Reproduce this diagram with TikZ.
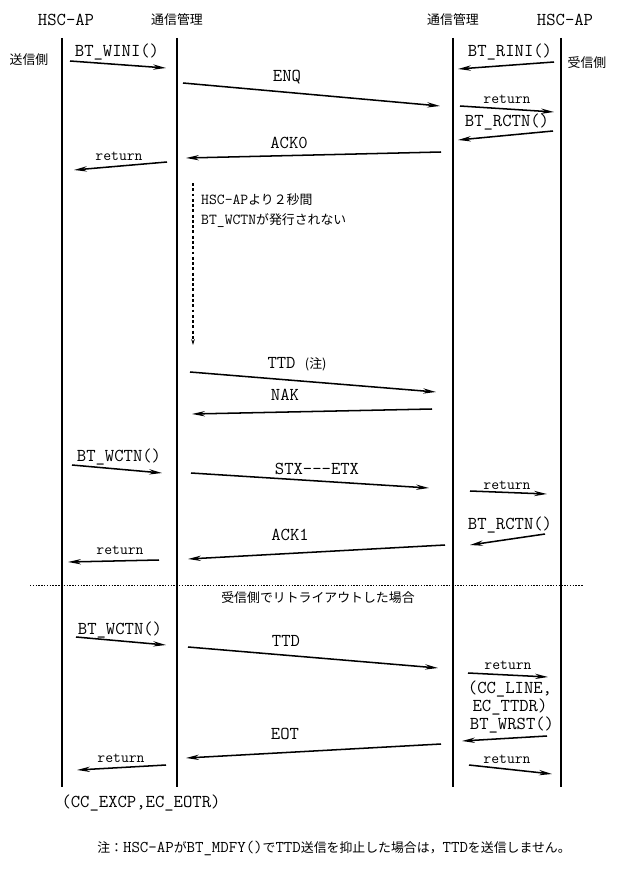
\documentclass[tikz,border=0pt]{standalone}
\usepackage{fontspec}
\newfontfamily\jpfont{Noto Sans CJK JP}
\newcommand{\jp}[1]{{\jpfont\fontsize{11pt}{13pt}\selectfont #1}}
\usetikzlibrary{arrows.meta}

\begin{document}
\begin{tikzpicture}[
    x=0.03cm, y=-0.03cm,
    life_style/.style={line width=1.3pt},
    msg_style/.style={line width=1.3pt, -{Stealth[length=11pt,width=4.5pt]}},
    lbl_style/.style={font=\ttfamily\fontsize{15.5pt}{17pt}\selectfont, inner sep=0pt},
    ret_style/.style={font=\ttfamily\fontsize{13pt}{15pt}\selectfont, inner sep=0pt},
    jp_style/.style={inner sep=0pt, align=left}
]
\useasboundingbox (0,0) rectangle (621,873);
% Kopfzeile
\node[lbl_style] (h1) at (66,20) {HSC-AP};
\node[jp_style] (h2) at (177,20) {\jp{通信管理}};
\node[jp_style] (h3) at (453,20) {\jp{通信管理}};
\node[lbl_style] (h4) at (565,20) {HSC-AP};
\node[jp_style] (send) at (29,60) {\jp{送信側}};
\node[jp_style] (recv) at (587,63) {\jp{受信側}};
% Lebenslinien
\foreach \i/\x in {1/62, 2/177, 3/453, 4/561} {
    \coordinate (L\i t) at (\x,38);
    \coordinate (L\i b) at (\x,787);
    \draw[life_style] (L\i t) -- (L\i b);
}
% Nachrichten
\foreach \n/\xa/\ya/\xb/\yb in {
    1/70/61/166/68, 2/183/83/440/106, 3/554/62/458/69, 4/460/106/554/112,
    5/553/131/458/140, 6/441/152/186/158, 7/167/162/74/170,
    8/190/372/436/392, 9/432/409/192/414, 10/72/465/162/473,
    11/191/473/429/488, 12/470/491/547/494, 13/545/534/470/545,
    14/445/545/188/559, 15/159/560/68/562, 16/76/637/166/645,
    17/188/647/438/668, 18/468/673/548/677, 19/547/736/462/741,
    20/441/744/186/758, 21/166/765/77/770, 22/469/765/552/774} {
    \coordinate (m\n a) at (\xa,\ya);
    \coordinate (m\n b) at (\xb,\yb);
    \draw[msg_style] (m\n a) -- (m\n b);
}
% Beschriftungen
\foreach \n/\x/\y/\t in {
    1/117/52/{BT\_WINI()}, 2/287/77/ENQ, 3/510/52/{BT\_RINI()},
    5/507/122/{BT\_RCTN()}, 6/289/143/ACK0, 8/297/364/{TTD \jp{(注)}},
    9/285/395/NAK, 10/119/457/{BT\_WCTN()}, 11/317/469/{STX-{}-{}-ETX},
    13/510/525/{BT\_RCTN()}, 14/290/535/ACK1, 16/120/630/{BT\_WCTN()},
    17/286/641/TTD, 19/512/725/{BT\_WRST()}, 20/285/734/EOT} {
    \node[lbl_style] (t\n) at (\x,\y) {\t};
}
\foreach \n/\x/\y in {4/507/99, 7/119/156, 12/507/485, 15/120/550,
    18/508/665, 21/121/758, 22/507/759} {
    \node[ret_style] (t\n) at (\x,\y) {return};
}
\node[lbl_style, align=center, font=\ttfamily\fontsize{15.5pt}{12.5pt}\selectfont]
    (err1) at (510,698) {(CC\_LINE,\\ EC\_TTDR)};
\node[lbl_style] (err2) at (141,803) {(CC\_EXCP,EC\_EOTR)};
% Zeitueberschreitung
\coordinate (w1) at (193,183);
\coordinate (w2) at (193,345);
\draw[line width=1pt, dash pattern=on 2.5pt off 2pt,
    -{Stealth[length=5pt,width=3pt]}] (w1) -- (w2);
\node[jp_style, anchor=west, font=\ttfamily\fontsize{13pt}{17pt}\selectfont]
    (wait) at (201,211) {HSC-AP\jp{より２秒間}\\BT\_WCTN\jp{が発行されない}};
% Trennlinie
\coordinate (d1) at (30,585);
\coordinate (d2) at (583,585);
\draw[line width=0.8pt, dash pattern=on 1.2pt off 1.2pt] (d1) -- (d2);
\node[jp_style] (retry) at (318,598) {\jp{受信側でリトライアウトした場合}};
% Anmerkung
\node[jp_style, font=\ttfamily\fontsize{14pt}{16pt}\selectfont] (note) at (334,848)
    {\jp{注：}HSC-AP\jp{が}BT\_MDFY()\jp{で}TTD\jp{送信を抑止した場合は，}TTD\jp{を送信しません。}};
\end{tikzpicture}
\end{document}
